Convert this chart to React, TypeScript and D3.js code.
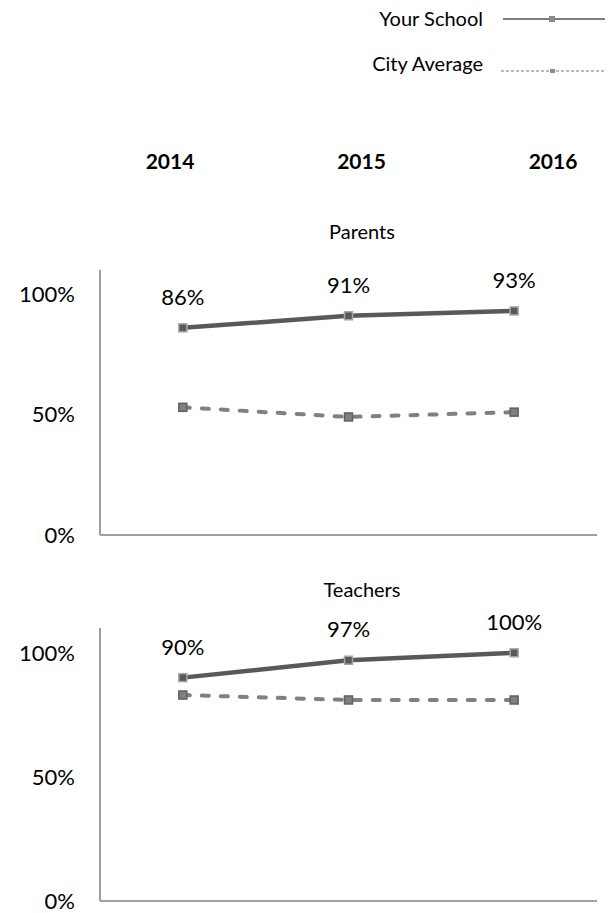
import * as d3 from "d3";

const years = ["2014", "2015", "2016"];
const panelTitles = ["Parents", "Teachers"];
const parentsSchool = [86, 91, 93];
const parentsCity = [53, 49, 51];
const teachersSchool = [90, 97, 100];
const teachersCity = [83, 81, 81];
const yTicks = [0, 50, 100];
const seriesNames = ["Your School", "City Average"];

const W = 615;
const H = 913;
const FONT = "Lato, 'Open Sans', sans-serif";
const SCHOOL = "#595959";
const CITY = "#808080";
const AXIS = "#a0a0a0";

type PanelProps = {
    title: string;
    school: number[];
    city: number[];
    top: number; // pixel y of axis top
    bottom: number; // pixel y of baseline
};

const x = d3.scaleBand<string>().domain(years).range([100, 597]);
const cx = (d: string) => (x(d) ?? 0) + x.bandwidth() / 2;

function Marker(props: {x: number; y: number; fill: string; stroke: string}) {
    return <rect x={props.x - 4} y={props.y - 4} width={8} height={8}
                 fill={props.fill} stroke={props.stroke} strokeWidth={1.5}/>;
}

function Panel(props: PanelProps) {
    const y = d3.scaleLinear().domain([0, 110]).range([props.bottom, props.top]);
    const line = d3.line<number>()
        .x((_, i) => cx(years[i]))
        .y(d => y(d));
    return <g>
        <text x={362} y={props.top - 38} dy="0.35em" textAnchor="middle" fontSize={20} fill="#000">{props.title}</text>
        <line x1={100} x2={100} y1={props.top} y2={props.bottom} stroke={AXIS} strokeWidth={2}/>
        <line x1={100} x2={597} y1={props.bottom} y2={props.bottom} stroke={AXIS} strokeWidth={2}/>
        {yTicks.map(t => (
            <text key={t} x={75} y={y(t)} dy="0.35em" textAnchor="end" fontSize={22} fill="#000">{t}%</text>
        ))}
        <path d={line(props.city) ?? ""} fill="none" stroke={CITY} strokeWidth={4}
              strokeDasharray="7 12" strokeLinecap="round"/>
        {props.city.map((v, i) => (
            <Marker key={i} x={cx(years[i])} y={y(v)} fill={CITY} stroke="#606060"/>
        ))}
        <path d={line(props.school) ?? ""} fill="none" stroke={SCHOOL} strokeWidth={4.5}/>
        {props.school.map((v, i) => (
            <g key={i}>
                <Marker x={cx(years[i])} y={y(v)} fill={SCHOOL} stroke="#a6a6a6"/>
                <text x={cx(years[i])} y={y(v) - 23} textAnchor="middle" fontSize={22} fill="#000">{v}%</text>
            </g>
        ))}
    </g>;
}

export default function App() {
    const yearHeaderX = d3.scalePoint<string>().domain(years).range([170, 553]);
    return <svg width={W} height={H} style={{position: "absolute", left: 0, top: 0}} fontFamily={FONT}>
        <rect width={W} height={H} fill="#fff"/>
        {/* legend */}
        <text x={483} y={19} dy="0.35em" textAnchor="end" fontSize={20} fill="#000">{seriesNames[0]}</text>
        <line x1={503} x2={605} y1={19} y2={19} stroke="#7f7f7f" strokeWidth={2}/>
        <rect x={549} y={16} width={6} height={6} fill="#8c8c8c"/>
        <text x={483} y={64} dy="0.35em" textAnchor="end" fontSize={20} fill="#000">{seriesNames[1]}</text>
        <line x1={501} x2={605} y1={71} y2={71} stroke="#a6a6a6" strokeWidth={1.5} strokeDasharray="3 2"/>
        <rect x={550} y={69} width={5} height={4} fill="#8c8c8c"/>
        {years.map(yr => (
            <text key={yr} x={yearHeaderX(yr)} y={162} dy="0.35em" textAnchor="middle"
                  fontSize={21} fontWeight="bold" fill="#000">{yr}</text>
        ))}
        <Panel title={panelTitles[0]} school={parentsSchool} city={parentsCity} top={270} bottom={535}/>
        <Panel title={panelTitles[1]} school={teachersSchool} city={teachersCity} top={628} bottom={901}/>
    </svg>;
}
